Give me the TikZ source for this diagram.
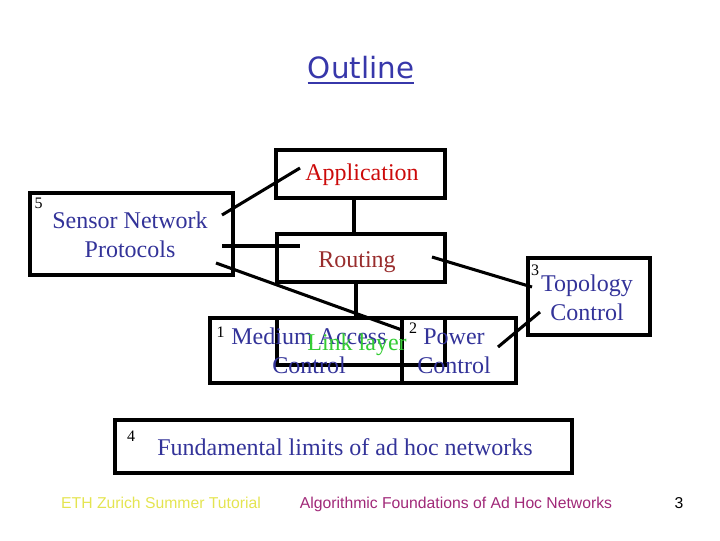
\documentclass[tikz,border=0pt]{standalone}
\usepackage{fontspec}
\setmainfont{Liberation Serif}
\newfontfamily\titlefont{DejaVu Sans}
\newfontfamily\footfont{Liberation Sans}
\definecolor{navy}{RGB}{51,51,153}
\definecolor{appred}{RGB}{204,10,10}
\definecolor{routred}{RGB}{153,45,45}
\definecolor{linkgreen}{RGB}{51,204,51}
\definecolor{titleblue}{RGB}{55,55,170}
\definecolor{ethyellow}{RGB}{228,228,80}
\definecolor{algmag}{RGB}{160,40,120}
\begin{document}
\begin{tikzpicture}[x=0.75pt,y=-0.75pt,
  framebox/.style={inner sep=0pt, outer sep=0pt},
  conn/.style={line width=2.3pt},
  txt/.style={font=\fontsize{18}{21.5}\selectfont, text=navy, align=center, inner sep=0pt, anchor=base},
  num/.style={font=\fontsize{12}{14}\selectfont, inner sep=0pt},
  foot/.style={font=\footfont\fontsize{11.8}{14}\selectfont, inner sep=0pt, anchor=base}]
\useasboundingbox (0,0) rectangle (720,540);
% title
\node[font=\titlefont\fontsize{22}{26}\selectfont, text=titleblue, inner sep=0pt, anchor=base] (title) at (361,78) {Outline};
\draw[titleblue, line width=1.5pt] ([yshift=-3.9pt]title.base west) -- ([yshift=-3.9pt]title.base east);
% boxes (size in px * 0.75pt)
\node[framebox, minimum width=126.75pt, minimum height=36pt] (appbox) at (360.5,174) {};
\node[framebox, minimum width=126pt, minimum height=36pt] (routbox) at (361,258) {};
\node[framebox, minimum width=152.25pt, minimum height=61.5pt] (sensbox) at (131.5,234) {};
\node[framebox, minimum width=91.5pt, minimum height=57.75pt] (topobox) at (589,296.5) {};
\node[framebox, minimum width=144pt, minimum height=48.75pt] (macbox) at (306,350.5) {};
\node[framebox, minimum width=85.5pt, minimum height=48.75pt] (powbox) at (459,350.5) {};
\node[framebox, minimum width=126pt, minimum height=35.25pt] (linkbox) at (361,341.5) {};
\node[framebox, minimum width=342.75pt, minimum height=39.75pt] (fundbox) at (343.5,446.5) {};
\foreach \b in {appbox,routbox,sensbox,topobox,macbox,powbox,linkbox,fundbox}
  \draw[conn] (\b.north west) rectangle (\b.south east);
% texts (base = last line)
\node[txt, text=appred] (app) at (362,180) {Application};
\node[txt, text=routred] (rout) at (357,267) {Routing};
\node[txt] (sens) at (130,257) {Sensor Network\\Protocols};
\node[txt] (mac) at (309,373) {Medium Access\\Control};
\node[txt] (pow) at (454,373) {Power\\Control};
\node[txt] (topo) at (587,320) {Topology\\Control};
\node[txt, text=linkgreen] (link) at (357,350) {Link layer};
\node[txt] (fund) at (345,455) {Fundamental limits of ad hoc networks};
% numbers
\node[num] (n5) at (38.5,203) {5};
\node[num] (n1) at (220.5,332) {1};
\node[num] (n2) at (413,328) {2};
\node[num] (n3) at (535,270) {3};
\node[num] (n4) at (131,436) {4};
% connectors
\coordinate (c1a) at (222,215); \coordinate (c1b) at (300,168);
\coordinate (c2a) at (222,246); \coordinate (c2b) at (300,246);
\coordinate (c3a) at (216,263); \coordinate (c3b) at (402,330);
\coordinate (c4a) at (354,198); \coordinate (c4b) at (354,234);
\coordinate (c5a) at (356,282); \coordinate (c5b) at (356,318);
\coordinate (c6a) at (432,257); \coordinate (c6b) at (532,287);
\coordinate (c7a) at (498,347); \coordinate (c7b) at (540,312);
\draw[conn] (c1a) -- (c1b);
\draw[conn] (c2a) -- (c2b);
\draw[conn] (c3a) -- (c3b);
\draw[conn] (c4a) -- (c4b);
\draw[conn] (c5a) -- (c5b);
\draw[conn] (c6a) -- (c6b);
\draw[conn] (c7a) -- (c7b);
% footer
\node[foot, text=ethyellow] (eth) at (161,508) {ETH Zurich Summer Tutorial};
\node[foot, text=algmag] (alg) at (456,508) {Algorithmic Foundations of Ad Hoc Networks};
\node[foot] (pg) at (679,508) {3};
\end{tikzpicture}
\end{document}
